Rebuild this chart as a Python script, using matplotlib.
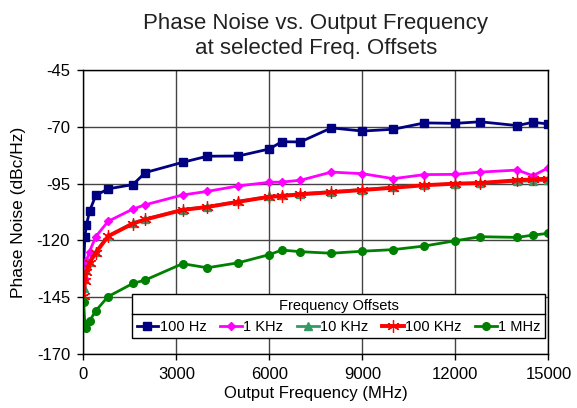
import matplotlib
matplotlib.use('Agg')
import matplotlib.pyplot as plt
import numpy as np

plt.rcParams['font.family'] = ['Liberation Sans', 'DejaVu Sans']
plt.rcParams['axes.unicode_minus'] = False

# 数据
freq = [10, 50, 100, 200, 400, 800, 1600, 2000, 3200, 4000, 5000, 6000, 6400,
        7000, 8000, 9000, 10000, 11000, 12000, 12800, 14000, 14500, 15000]

pn_100hz = [-131.6, -118.4, -113.3, -107.2, -100.2, -97.3, -95.4, -90.1, -85.6,
            -82.9, -82.8, -79.7, -76.5, -76.6, -70.4, -71.8, -71.0, -68.2,
            -68.4, -67.7, -69.4, -67.9, -68.7]
pn_1khz = [-136.8, -132.5, -129.0, -125.0, -118.4, -111.6, -106.2, -104.3, -100.0,
           -98.4, -96.0, -94.4, -94.3, -93.5, -89.9, -90.6, -92.8, -91.0,
           -90.9, -89.9, -89.0, -91.5, -88.0]
pn_10khz = [-141.0, -137.0, -133.0, -129.5, -125.0, -118.0, -112.3, -110.6, -106.4,
            -105.1, -102.8, -100.6, -100.2, -99.4, -98.5, -97.6, -96.6, -95.6,
            -95.0, -94.8, -94.0, -93.8, -93.6]
pn_100khz = [-144.5, -138.0, -134.0, -130.0, -125.5, -118.2, -112.6, -110.8, -106.6,
             -105.3, -103.0, -100.8, -100.5, -99.7, -98.8, -97.8, -96.8, -95.7,
             -95.0, -94.7, -93.5, -93.1, -92.8]
pn_1mhz = [-147.1, -156.7, -158.8, -155.6, -151.1, -144.8, -139.0, -137.5, -130.3,
           -132.1, -129.9, -126.3, -124.3, -125.0, -125.7, -124.8, -124.1, -122.5,
           -120.2, -118.4, -118.7, -117.7, -116.9]

fig = plt.figure(figsize=(5.77, 4.08), dpi=100)
ax = fig.add_axes([0.1444, 0.1331, 0.806, 0.6946])

ax.plot(freq, pn_100hz, color='#000080', lw=2, marker='s', ms=5.5, label='100 Hz')
ax.plot(freq, pn_1khz, color='#FF00FF', lw=2, marker='D', ms=4.5, label='1 KHz')
ax.plot(freq, pn_10khz, color='#339966', lw=2, marker='^', ms=5.5, label='10 KHz')
ax.plot(freq, pn_100khz, color='#FF0000', lw=2.8, marker=(6, 2, 0), ms=9, mew=0.9,
        label='100 KHz')
ax.plot(freq, pn_1mhz, color='#008000', lw=2, marker='o', ms=5.5, label='1 MHz')

ax.set_xlim(0, 15000)
ax.set_ylim(-170, -45)
ax.set_xticks(np.arange(0, 15001, 3000))
ax.set_yticks(np.arange(-170, -44, 25))
ax.grid(True, color='#444444', lw=1)
ax.set_axisbelow(True)
for s in ax.spines.values():
    s.set_color('black')
    s.set_linewidth(1)
ax.tick_params(direction='out', length=4.5, width=1, labelsize=12, pad=5)

ax.set_xlabel('Output Frequency (MHz)', fontsize=12, labelpad=3)
ax.set_ylabel('Phase Noise (dBc/Hz)', fontsize=12.5, labelpad=8)
ax.set_title('Phase Noise vs. Output Frequency\nat selected Freq. Offsets',
             fontsize=16, color='#222222', pad=12, linespacing=1.2)

leg = ax.legend(loc='lower left', bbox_to_anchor=(0.105, 0.054, 0.888, 0.147),
                mode='expand', ncol=5, fontsize=10.5, frameon=True, fancybox=False,
                edgecolor='black', framealpha=1, title='Frequency Offsets',
                title_fontsize=10.5, handlelength=1.5, handletextpad=0.1,
                columnspacing=0.8, borderpad=0.3, borderaxespad=0)
leg.get_frame().set_linewidth(1)

# 图例标题下的分隔线
ax.plot([0.105, 0.993], [0.139, 0.139], transform=ax.transAxes, color='black',
        lw=1, clip_on=False, zorder=10)

plt.savefig('out.png', dpi=100)
